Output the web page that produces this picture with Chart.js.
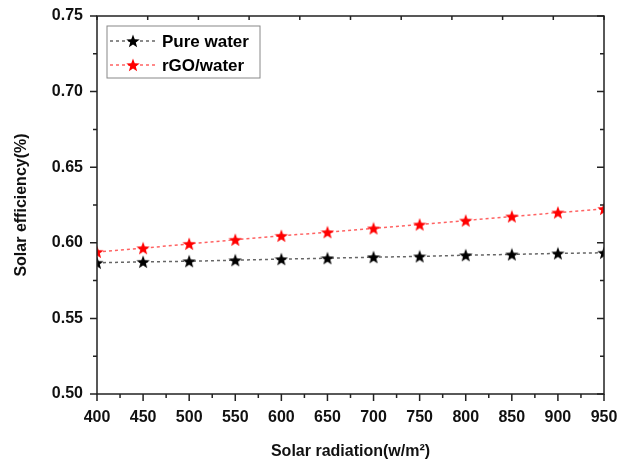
<!DOCTYPE html>
<html>
<head>
<meta charset="utf-8">
<script src="https://cdn.jsdelivr.net/npm/chart.js@4/dist/chart.umd.min.js"></script>
<style>
  html, body { margin: 0; padding: 0; background: #fff; }
  #wrap { width: 628px; height: 465px; }
</style>
</head>
<body>
<div id="wrap"><canvas id="effChart" width="628" height="465"></canvas></div>
<script>
const radiation = [400, 450, 500, 550, 600, 650, 700, 750, 800, 850, 900, 950];
const pureWater = [0.5868, 0.5874, 0.5878, 0.5885, 0.5892, 0.5898, 0.5905, 0.5910, 0.5918, 0.5923, 0.5930, 0.5934];
const rgoWater  = [0.5940, 0.5964, 0.5993, 0.6020, 0.6046, 0.6070, 0.6095, 0.6121, 0.6147, 0.6174, 0.6200, 0.6224];
const yTicks = [0.50, 0.55, 0.60, 0.65, 0.70, 0.75];

// filled 5-point star used as point style
function starImage(color, size) {
  const c = document.createElement('canvas');
  c.width = size; c.height = size;
  const g = c.getContext('2d');
  const cx = size / 2, cy = size / 2 + 0.6, R = size / 2, r = R * 0.42;
  g.beginPath();
  for (let i = 0; i < 10; i++) {
    const a = -Math.PI / 2 + i * Math.PI / 5;
    const rad = i % 2 === 0 ? R : r;
    g.lineTo(cx + rad * Math.cos(a), cy + rad * Math.sin(a));
  }
  g.closePath();
  g.fillStyle = color;
  g.fill();
  return c;
}
const blackStar = starImage('#000', 14);
const redStar = starImage('#ff0000', 14);

// ticks on all four sides, minor ticks, frame and inner legend
const framePlugin = {
  id: 'frame',
  afterDraw(chart) {
    const ctx = chart.ctx;
    const a = chart.chartArea;
    const xs = chart.scales.x, ys = chart.scales.y;
    ctx.save();
    ctx.strokeStyle = '#222';
    ctx.lineWidth = 1.5;
    ctx.strokeRect(a.left, a.top, a.right - a.left, a.bottom - a.top);
    ctx.beginPath();
    for (let v = 400; v <= 950; v += 25) {
      const px = xs.getPixelForValue(v);
      const len = (v % 50 === 0) ? 7 : 4;
      ctx.moveTo(px, a.bottom); ctx.lineTo(px, a.bottom + len);
    }
    for (let k = 0; k <= 10; k++) {
      const px = xs.getPixelForValue(400 + 55 * k);
      ctx.moveTo(px, a.top); ctx.lineTo(px, a.top + 4);
    }
    for (let i = 0; i <= 10; i++) {
      const v = 0.5 + i * 0.025;
      const py = ys.getPixelForValue(v);
      const len = (i % 2 === 0) ? 7 : 4;
      ctx.moveTo(a.left, py); ctx.lineTo(a.left - len, py);
      ctx.moveTo(a.right, py); ctx.lineTo(a.right - len, py);
    }
    ctx.stroke();

    // legend box
    const bx = 107, by = 26, bw = 153, bh = 52;
    ctx.strokeStyle = '#888';
    ctx.lineWidth = 1;
    ctx.strokeRect(bx, by, bw, bh);
    chart.data.datasets.forEach((ds, i) => {
      const y = 41 + i * 24;
      ctx.strokeStyle = ds.borderColor;
      ctx.lineWidth = 1.5;
      ctx.setLineDash([3, 3]);
      ctx.beginPath();
      ctx.moveTo(110, y); ctx.lineTo(156, y);
      ctx.stroke();
      ctx.setLineDash([]);
      const img = ds.pointStyle;
      ctx.drawImage(img, 133 - img.width / 2, y - img.height / 2);
      ctx.fillStyle = '#000';
      ctx.font = 'bold 17px "Liberation Sans", Arial, sans-serif';
      ctx.textBaseline = 'middle';
      ctx.fillText(ds.label, 162, y + 1);
    });
    ctx.restore();
  }
};

const tickFont = { family: '"Liberation Sans", Arial, sans-serif', size: 16, weight: 'bold' };

new Chart(document.getElementById('effChart'), {
  type: 'line',
  data: {
    datasets: [
      {
        label: 'Pure water',
        data: radiation.map((x, i) => ({ x: x, y: pureWater[i] })),
        borderColor: '#666',
        borderWidth: 1.5,
        borderDash: [3, 3],
        pointStyle: blackStar,
        tension: 0
      },
      {
        label: 'rGO/water',
        data: radiation.map((x, i) => ({ x: x, y: rgoWater[i] })),
        borderColor: 'rgba(255, 70, 70, 0.85)',
        borderWidth: 1.5,
        borderDash: [3, 3],
        pointStyle: redStar,
        tension: 0
      }
    ]
  },
  options: {
    responsive: false,
    animation: false,
    layout: { padding: { left: 0, right: 24, top: 16, bottom: 0 } },
    plugins: {
      legend: { display: false },
      tooltip: { enabled: false }
    },
    scales: {
      x: {
        type: 'linear',
        min: 400,
        max: 950,
        afterBuildTicks(scale) { scale.ticks = radiation.map(v => ({ value: v })); },
        afterFit(scale) { scale.height = 71; },
        grid: { display: false },
        border: { display: false },
        ticks: { color: '#111', font: tickFont, padding: 6, maxRotation: 0, autoSkip: false },
        title: {
          display: true,
          text: 'Solar radiation(w/m²)',
          color: '#111',
          font: { family: '"Liberation Sans", Arial, sans-serif', size: 16, weight: 'bold' },
          padding: { top: 12 }
        }
      },
      y: {
        min: 0.5,
        max: 0.75,
        afterBuildTicks(scale) { scale.ticks = yTicks.map(v => ({ value: v })); },
        afterFit(scale) { scale.width = 97; },
        grid: { display: false },
        border: { display: false },
        ticks: {
          color: '#111',
          font: tickFont,
          padding: 6,
          callback: v => v.toFixed(2)
        },
        title: {
          display: true,
          text: 'Solar efficiency(%)',
          color: '#111',
          font: { family: '"Liberation Sans", Arial, sans-serif', size: 16, weight: 'bold' },
          padding: { top: 12, bottom: 4 }
        }
      }
    }
  },
  plugins: [framePlugin]
});
</script>
</body>
</html>
